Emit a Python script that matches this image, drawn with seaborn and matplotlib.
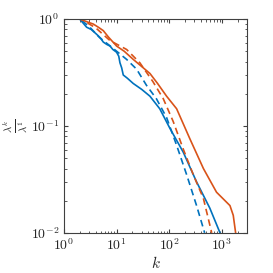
import numpy as np
import pandas as pd
import seaborn as sns
import matplotlib.pyplot as plt

# eigenvalue ratio curves
k_blue = [1, 2, 2.4, 2.7, 3.3, 4.2, 5, 5.6, 6.5, 7.5, 8.5, 10, 11, 11.6, 12.5, 13.4, 16, 20.7, 30, 43, 66, 103, 184, 330, 590, 920]
y_blue = [1, 1, 0.90, 0.84, 0.80, 0.72, 0.66, 0.61, 0.58, 0.56, 0.52, 0.49, 0.45, 0.39, 0.35, 0.30, 0.28, 0.25, 0.22, 0.19, 0.145, 0.095, 0.057, 0.030, 0.017, 0.01]

k_blue_d = [2.2, 3.1, 4.8, 8.7, 15.5, 24, 37, 57, 89, 138, 214, 330, 470]
y_blue_d = [0.97, 0.84, 0.67, 0.53, 0.42, 0.34, 0.24, 0.18, 0.12, 0.066, 0.035, 0.018, 0.01]

k_red = [1, 2, 2.8, 3.6, 4.5, 5.6, 7, 10, 14, 20.7, 30, 43, 60, 89, 138, 246, 445, 790, 1420, 1640, 1820]
y_red = [1, 1, 0.94, 0.90, 0.84, 0.78, 0.68, 0.56, 0.50, 0.42, 0.36, 0.31, 0.25, 0.19, 0.145, 0.076, 0.040, 0.024, 0.018, 0.0146, 0.01]

k_red_d = [2.8, 4, 7.5, 15.5, 27.7, 49, 77, 119, 184, 286, 445, 640]
y_red_d = [0.92, 0.83, 0.63, 0.52, 0.39, 0.26, 0.18, 0.11, 0.061, 0.035, 0.021, 0.01]

blue = '#0072BD'
red = '#D95319'

sns.set_style('ticks')
plt.rcParams['mathtext.fontset'] = 'cm'
plt.rcParams['font.family'] = ['DejaVu Serif']

fig = plt.figure(figsize=(2.73, 2.73), dpi=100)
ax = fig.add_axes([0.234, 0.147, 0.671, 0.783])

sns.lineplot(x=k_blue, y=y_blue, color=blue, lw=1.2, ax=ax)
sns.lineplot(x=k_blue_d, y=y_blue_d, color=blue, lw=1.2, ax=ax, linestyle=(0, (4, 2.5)))
sns.lineplot(x=k_red, y=y_red, color=red, lw=1.2, ax=ax)
sns.lineplot(x=k_red_d, y=y_red_d, color=red, lw=1.2, ax=ax, linestyle=(0, (4, 2.5)))

ax.set_xscale('log')
ax.set_yscale('log')
ax.set_xlim(1, 3000)
ax.set_ylim(0.01, 1)
ax.set_xticks([1, 10, 100, 1000])
ax.set_xticklabels([r'$10^{0}$', r'$10^{1}$', r'$10^{2}$', r'$10^{3}$'])
ax.set_yticks([0.01, 0.1, 1])
ax.set_yticklabels([r'$10^{-2}$', r'$10^{-1}$', r'$10^{0}$'])
ax.tick_params(which='both', direction='in', top=True, right=True, labelsize=10, colors='#404040', labelcolor='#262626')
ax.tick_params(which='major', length=3)
ax.tick_params(which='minor', length=1.8)
for s in ax.spines.values():
    s.set_visible(True)
    s.set_color('#404040')
    s.set_linewidth(0.8)
ax.set_xlabel(r'$k$', fontsize=11, labelpad=1)
ax.set_ylabel(r'$\frac{\lambda^k}{\lambda^1}$', fontsize=11)
ax.yaxis.label.set(rotation_mode='default', ha='center', va='center')
ax.yaxis.set_label_coords(-0.265, 0.5)
fig.savefig('out.png', dpi=100)
